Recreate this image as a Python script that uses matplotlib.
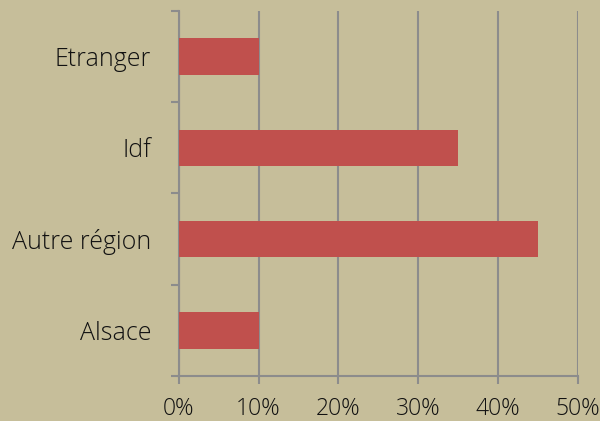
import matplotlib.pyplot as plt
import numpy as np

categories = ['Alsace', 'Autre région', 'Idf', 'Etranger']
values = [0.10, 0.45, 0.35, 0.10]
x_ticks = [0, 0.1, 0.2, 0.3, 0.4, 0.5]
x_labels = ['0%', '10%', '20%', '30%', '40%', '50%']

bg = '#C6BE9A'
bar_color = '#C0504D'
line_color = '#8C8C8C'

plt.rcParams['font.family'] = ['Open Sans', 'DejaVu Sans']

fig = plt.figure(figsize=(6, 4.21), dpi=100, facecolor=bg)
ax = fig.add_axes([0.298, 0.107, 0.665, 0.867])
ax.set_facecolor(bg)

y = np.arange(len(categories))
ax.barh(y, values, height=0.4, color=bar_color, zorder=3)

ax.set_xlim(0, 0.5)
ax.set_ylim(-0.5, len(categories) - 0.5)

ax.set_xticks(x_ticks)
ax.set_xticklabels(x_labels, fontsize=16.5, color='#111111', fontweight='light')
ax.tick_params(axis='x', length=6, width=1.5, color=line_color, pad=9)
ax.xaxis.grid(True, color=line_color, linewidth=1.5, zorder=0)

ax.set_yticks(np.arange(-0.5, len(categories), 1.0))
ax.set_yticklabels([])
ax.tick_params(axis='y', which='major', length=6, width=1.5, color=line_color)
ax.set_yticks(y, minor=True)
ax.set_yticklabels(categories, minor=True, fontsize=18, color='#111111', fontweight='light')
ax.tick_params(axis='y', which='minor', length=0, pad=20)

for s in ['top', 'right']:
    ax.spines[s].set_visible(False)
for s in ['left', 'bottom']:
    ax.spines[s].set_color(line_color)
    ax.spines[s].set_linewidth(1.5)

fig.savefig('out.png', dpi=100, facecolor=bg)
